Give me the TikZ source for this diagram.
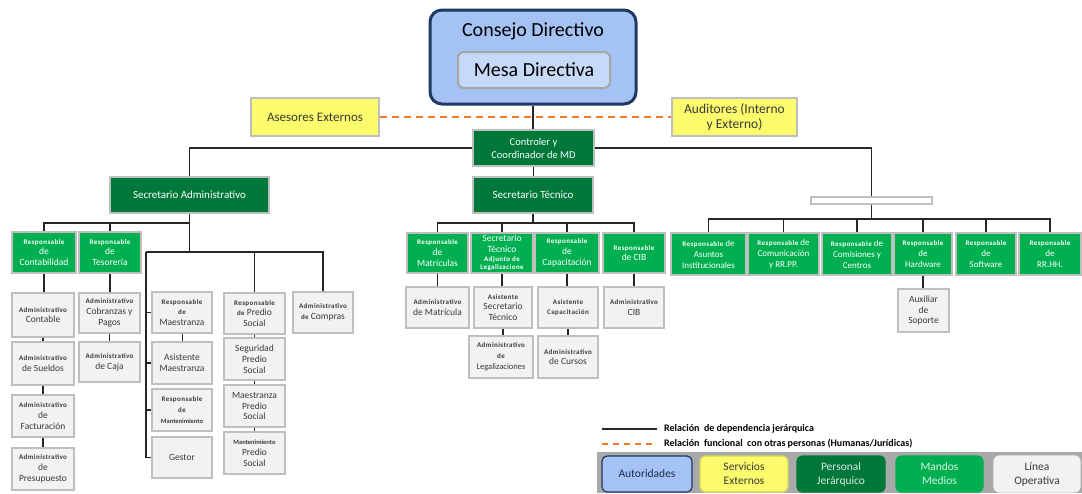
\documentclass[tikz,border=0pt]{standalone}
\usepackage{fontspec}
\setmainfont{Carlito}
\definecolor{dgreen}{HTML}{00783A}
\definecolor{bgreen}{HTML}{00B050}
\definecolor{lgrey}{HTML}{F2F2F2}
\definecolor{boxgrey}{HTML}{BFBFBF}
\definecolor{tgrey}{HTML}{3A3A3A}
\definecolor{yell}{HTML}{FBFB6C}
\definecolor{blu}{HTML}{A4C2F4}
\definecolor{lblu}{HTML}{C6D9F8}
\definecolor{navy}{HTML}{1F3864}
\definecolor{orng}{HTML}{F47A2A}
\definecolor{bandgrey}{HTML}{A9A9A9}
\newcommand\fs[2]{\fontsize{#1}{#2}\selectfont}
\newcommand\sm[1]{{\fontsize{7}{9}\selectfont\bfseries\addfontfeature{LetterSpace=6}#1}}
\tikzset{
  every node/.style={inner sep=0pt, align=center},
  box/.style={draw=boxgrey, line width=1.5pt, inner sep=0pt, align=center},
  dgbox/.style={box, fill=dgreen, text=white},
  bgbox/.style={box, fill=bgreen, text=white, font=\fs{9.5}{10.8}},
  lgbox/.style={box, fill=lgrey, text=tgrey, font=\fs{9.5}{10.8}},
  ybox/.style={box, fill=yell, text=tgrey},
  conn/.style={line width=1.3pt, draw=black!85},
  fconn/.style={line width=1.6pt, draw=orng, dash pattern=on 7pt off 5pt},
  legbox/.style={rounded corners=5pt, line width=1.2pt, minimum width=88pt, minimum height=36pt, font=\fs{11.5}{14}},
}
\begin{document}
\begin{tikzpicture}[x=1pt,y=-1pt]
\useasboundingbox (0,0) rectangle (1082,493);

% ---------- top ----------
\node[draw=navy, line width=3pt, fill=blu, rounded corners=12pt, minimum width=206pt, minimum height=94pt] (cons) at (533,57) {};
\node[font=\fs{20}{24}, text=black] (consT) at (533,31) {Consejo Directivo};
\node[draw=gray!70, line width=2pt, fill=lblu, rounded corners=6pt, minimum width=152pt, minimum height=36pt, font=\fs{20}{24}] (mesa) at (534,70) {Mesa Directiva};

\node[ybox, minimum width=128pt, minimum height=38pt, font=\fs{13}{15}] (ases) at (315,117) {Asesores Externos};
\node[ybox, minimum width=125pt, minimum height=38pt, font=\fs{13.5}{15}] (audit) at (734.5,117) {Auditores (Interno\\y Externo)};

\node[dgbox, minimum width=121pt, minimum height=36pt, font=\fs{10.5}{13}] (ctrl) at (533.5,148) {Controler y\\Coordinador de MD};
\node[dgbox, minimum width=159pt, minimum height=36pt, font=\fs{11}{12}] (sadm) at (189.5,195) {Secretario Administrativo};
\node[dgbox, minimum width=120pt, minimum height=36pt, font=\fs{11}{12}] (stec) at (533,195) {Secretario Técnico};
\node[box, fill=white, minimum width=121pt, minimum height=7pt] (blank) at (871.5,200.5) {};

\draw[conn] (cons.south) -- (cons.south |- ctrl.north);
\draw[fconn] (ases.east) -- (audit.west);
\draw[conn] (ctrl.south) -- (ctrl.south |- stec.north);
\draw[conn] (ctrl.west) -| (sadm.north);
\draw[conn] (ctrl.east) -| (blank.north);

% ---------- right group ----------
\node[bgbox, minimum width=75pt, minimum height=42pt, font=\fs{9}{11}] (asun) at (708.5,254) {\sm{Responsable} de\\Asuntos\\Institucionales};
\node[bgbox, minimum width=71pt, minimum height=42pt, font=\fs{9}{11}] (comu) at (783.5,254) {\sm{Responsable} de\\Comunicación\\y RR.PP.};
\node[bgbox, minimum width=70pt, minimum height=42pt, font=\fs{9}{11}] (comi) at (857,254) {\sm{Responsable} de\\Comisiones y\\Centros};
\node[bgbox, minimum width=58pt, minimum height=42pt, font=\fs{9}{11}] (hard) at (923,254) {\sm{Responsable}\\de\\Hardware};
\node[bgbox, minimum width=60pt, minimum height=42pt, font=\fs{9}{11}] (soft) at (986,254) {\sm{Responsable}\\de\\Software};
\node[bgbox, minimum width=62pt, minimum height=42pt, font=\fs{9}{11}] (rrhh) at (1050,254) {\sm{Responsable}\\de\\RR.HH.};
\node[lgbox, minimum width=51pt, minimum height=43pt] (aux) at (923.5,310.5) {Auxiliar\\de\\Soporte};

\coordinate (bj) at (871.5,219);
\draw[conn] (blank.south) -- (bj);
\foreach \n in {asun,comu,comi,hard,soft,rrhh} \draw[conn] (bj) -| (\n.north);
\draw[conn] (hard.south) -- (hard.south |- aux.north);

% ---------- Secretario Tecnico group ----------
\node[bgbox, minimum width=61pt, minimum height=40pt] (rmat) at (437.5,253) {\sm{Responsable}\\de\\Matrículas};
\node[bgbox, minimum width=62pt, minimum height=40pt] (stad) at (502,253) {Secretario\\Técnico\\[-2pt]\sm{Adjunto de}\\[-2pt]\sm{Legalizacione}};
\node[bgbox, minimum width=64pt, minimum height=40pt] (rcap) at (567,253) {\sm{Responsable}\\de\\Capacitación};
\node[bgbox, minimum width=62pt, minimum height=40pt] (rcib) at (634,253) {\sm{Responsable}\\de CIB};

\node[lgbox, minimum width=63pt, minimum height=41pt] (amat) at (437.5,307.5) {\sm{Administrativo}\\de Matrícula};
\node[lgbox, minimum width=58pt, minimum height=41pt] (asst) at (503,307.5) {\sm{Asistente}\\Secretario\\Técnico};
\node[lgbox, minimum width=60pt, minimum height=41pt] (acap) at (568,307.5) {\sm{Asistente}\\\sm{Capacitación}};
\node[lgbox, minimum width=60pt, minimum height=41pt] (acib) at (634,307.5) {\sm{Administrativo}\\CIB};
\node[lgbox, minimum width=64pt, minimum height=42pt] (aleg) at (501,357) {\sm{Administrativo}\\\sm{de}\\{\fs{8.5}{10}Legalizaciones}};
\node[lgbox, minimum width=60pt, minimum height=42pt] (acur) at (568,357) {\sm{Administrativo}\\de Cursos};

\coordinate (tj) at (533,223);
\draw[conn] (stec.south) -- (tj);
\foreach \n in {rmat,stad,rcap,rcib} \draw[conn] (tj) -| (\n.north);
\draw[conn] (rmat.south) -- (rmat.south |- amat.north);
\draw[conn] (stad.south) -- (stad.south |- asst.north);
\draw[conn] (asst.south) -- (asst.south |- aleg.north);
\draw[conn] (rcap.south) -- (rcap.south |- acap.north);
\draw[conn] (acap.south) -- (acap.south |- acur.north);
\draw[conn] (rcib.south) -- (rcib.south |- acib.north);

% ---------- Secretario Administrativo group ----------
\node[bgbox, minimum width=64pt, minimum height=41pt] (rcon) at (44,252.5) {\sm{Responsable}\\de\\Contabilidad};
\node[bgbox, minimum width=62pt, minimum height=41pt] (rtes) at (110,252.5) {\sm{Responsable}\\de\\Tesorería};
\node[lgbox, minimum width=62pt, minimum height=44pt] (acon) at (43,315) {\sm{Administrativo}\\Contable};
\node[lgbox, minimum width=62pt, minimum height=43pt] (asue) at (43,363.5) {\sm{Administrativo}\\de Sueldos};
\node[lgbox, minimum width=62pt, minimum height=42pt] (afac) at (43,416) {\sm{Administrativo}\\de\\Facturación};
\node[lgbox, minimum width=62pt, minimum height=42pt] (apre) at (43,469) {\sm{Administrativo}\\de\\Presupuesto};
\node[lgbox, minimum width=61pt, minimum height=40pt] (acob) at (109.5,313) {\sm{Administrativo}\\Cobranzas y\\Pagos};
\node[lgbox, minimum width=61pt, minimum height=40pt] (acaj) at (109.5,362) {\sm{Administrativo}\\de Caja};

\node[lgbox, minimum width=60pt, minimum height=41pt] (rmae) at (182,312.5) {\sm{Responsable}\\\sm{de}\\Maestranza};
\node[lgbox, minimum width=60pt, minimum height=42pt] (asma) at (182,363) {Asistente\\Maestranza};
\node[lgbox, minimum width=60pt, minimum height=42pt] (rman) at (182,410) {\sm{Responsable}\\\sm{de}\\{\fontsize{6.5}{9}\selectfont\bfseries Mantenimiento}};
\node[lgbox, minimum width=60pt, minimum height=41pt] (gest) at (182,457.5) {Gestor};

\node[lgbox, minimum width=61pt, minimum height=41pt] (pred) at (254.5,313.5) {\sm{Responsable}\\\sm{de} Predio\\Social};
\node[lgbox, minimum width=61pt, minimum height=42pt] (segp) at (254.5,359) {Seguridad\\Predio\\Social};
\node[lgbox, minimum width=61pt, minimum height=42pt] (maep) at (254.5,406) {Maestranza\\Predio\\Social};
\node[lgbox, minimum width=61pt, minimum height=42pt] (manp) at (254.5,453) {{\fontsize{6.5}{9}\selectfont\bfseries Mantenimiento}\\Predio\\Social};
\node[lgbox, minimum width=60pt, minimum height=41pt] (acom) at (323,312.5) {\sm{Administrativo}\\\sm{de} Compras};

\coordinate (aj1) at (189.5,223);
\coordinate (aj2) at (189.5,252);
\coordinate (bk) at (146,252);
\draw[conn] (sadm.south) -- (aj2);
\draw[conn] (aj1) -| (rcon.north);
\draw[conn] (aj1) -| (rtes.north);
\draw[conn] (rcon.south) -- (rcon.south |- acon.north);
\draw[conn] (acon.south) -- (asue.north);
\draw[conn] (asue.south) -- (afac.north);
\draw[conn] (afac.south) -- (apre.north);
\draw[conn] (rtes.south) -- (rtes.south |- acob.north);
\draw[conn] (acob.south) -- (acaj.north);

\draw[conn] (bk) -| (acom.north);
\draw[conn] (pred.north) -- (pred.north |- bk);
\draw[conn] (bk) -- (bk |- gest.west) -- (gest.west);
\foreach \n in {rmae,asma,rman} \draw[conn] (bk |- \n.west) -- (\n.west);
\draw[conn, line width=1pt] (rmae.south) -- (asma.north);
\draw[conn, line width=1pt] (pred.south) -- (segp.north);
\draw[conn, line width=1pt] (segp.south) -- (maep.north);
\draw[conn, line width=1pt] (maep.south) -- (manp.north);

% ---------- legend ----------
\coordinate (l1a) at (602,429); \coordinate (l1b) at (657,429);
\coordinate (l2a) at (602,444); \coordinate (l2b) at (657,444);
\draw[conn] (l1a) -- (l1b);
\draw[fconn, dash pattern=on 6pt off 5pt] (l2a) -- (l2b);
\node[anchor=west, font=\fs{10}{11}\bfseries] (l1t) at (664,429) {Relación\ \ de dependencia jerárquica};
\node[anchor=west, font=\fs{10}{11}\bfseries] (l2t) at (664,444) {Relación\ \ funcional\ \ con otras personas (Humanas/Jurídicas)};

\node[fill=bandgrey, minimum width=485pt, minimum height=41pt] (band) at (839.5,472.5) {};
\node[legbox, draw=navy, fill=blu, text=navy!80!black, minimum width=90pt] (lA) at (647,474) {Autoridades};
\node[legbox, draw=yell!85!black, fill=yell, text=tgrey] (lS) at (744,474) {Servicios\\Externos};
\node[legbox, draw=dgreen, fill=dgreen, text=white!85!dgreen] (lP) at (841,474) {Personal\\Jerárquico};
\node[legbox, draw=bgreen, fill=bgreen, text=white!85!bgreen, minimum width=87pt] (lM) at (939.5,474) {Mandos\\Medios};
\node[legbox, draw=lgrey, fill=lgrey, text=tgrey, minimum width=86pt] (lL) at (1037,474) {Línea\\Operativa};
\end{tikzpicture}
\end{document}
